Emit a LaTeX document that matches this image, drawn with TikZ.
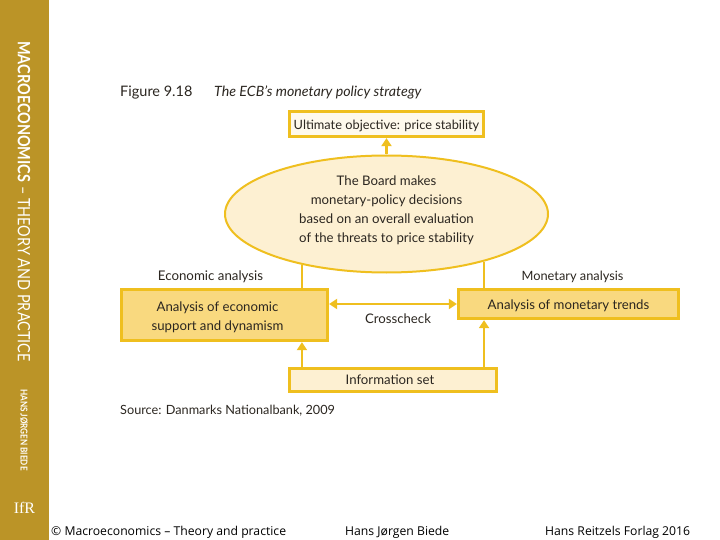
\documentclass[tikz,border=0pt]{standalone}
\usepackage{fontspec}
\setmainfont{Lato}
\newfontfamily\footfont{Open Sans}
\newfontfamily\spinefont[FakeStretch=0.85]{Lato}
\newfontfamily\logofont{Liberation Serif}
\usetikzlibrary{arrows.meta, shapes.geometric}
\definecolor{spine}{HTML}{BB9427}
\definecolor{edge}{HTML}{EFBF1F}
\definecolor{deepfill}{HTML}{F9D97F}
\definecolor{palefill}{HTML}{FDF0D2}
\definecolor{lightfill}{HTML}{FEF9EC}
\definecolor{ink}{HTML}{2B2620}
% text of a node, moved by (#1)/2 sideways and #2 upwards, the node keeps its size
\newcommand{\nudged}[3]{\raisebox{#2}[\height][\depth]{\hspace*{#1}\begin{tabular}{@{}c@{}}#3\end{tabular}}}
\tikzset{%
	every stage/.style={
		draw=edge,
		line width=2.8pt,
		text=ink,
		font=\fontsize{13.2}{19}\selectfont,
		align=center,
		inner sep=0pt
	},
	link/.style={
		draw=edge,
		line width=2.8pt,
		-{Triangle[length=8pt,width=10pt]}
	},
	caption/.style={
		text=ink,
		font=\fontsize{13.2}{16}\selectfont,
		inner sep=0pt
	},
	footer/.style={
		text=black,
		font=\footfont\fontsize{12.2}{14}\selectfont,
		inner sep=0pt
	},
	spinetext/.style={
		text=white,
		rotate=-90,
		inner sep=0pt
	},
}
\begin{document}
\begin{tikzpicture}[x=1pt,y=-1pt]
	\useasboundingbox (0,0) rectangle (720,540);
	% Spine
	\fill[spine] (0,0) rectangle (48.5,540);
	\node[spinetext, font=\spinefont\fontsize{17}{17}\selectfont] (Title) at (24,201.5) {\textbf{MACROECONOMICS} – THEORY AND PRACTICE};
	\node[spinetext, font=\spinefont\bfseries\fontsize{9.5}{10}\selectfont] (Writer) at (24,430) {HANS JØRGEN BIEDE};
	\node[text=white, inner sep=0pt, font=\logofont\fontsize{16}{16}\selectfont] (Logo) at (24.5,508) {IfR};
	% Heading
	\node[caption, anchor=west, font=\fontsize{14.5}{17}\selectfont] (Figure) at (120,92.5) {Figure 9.18};
	\node[caption, anchor=west, font=\itshape\fontsize{14.2}{17}\selectfont] (Heading) at (214,92.5) {The ECB's monetary policy strategy};
	% Boxes
	\node[every stage, fill=lightfill, minimum width=194.5pt, minimum height=25.5pt, font=\fontsize{12.8}{16}\selectfont] (Objective) at (386.5,124) {\nudged{0pt}{-2pt}{Ultimate objective: price stability}};
	\node[every stage, ellipse, line width=2pt, fill=palefill, minimum width=323pt, minimum height=117pt] (Board) at (386.5,214) {\nudged{0pt}{4pt}{The Board makes\\monetary-policy decisions\\based on an overall evaluation\\of the threats to price stability}};
	\node[every stage, fill=deepfill, minimum width=206.5pt, minimum height=51.5pt] (Economic) at (224.5,315) {\nudged{-14pt}{-2pt}{Analysis of economic\\support and dynamism}};
	\node[every stage, fill=deepfill, minimum width=220.5pt, minimum height=29.5pt] (Monetary) at (568.5,304) {\nudged{0pt}{-2pt}{Analysis of monetary trends}};
	\node[every stage, fill=palefill, minimum width=206.5pt, minimum height=23.5pt] (Information) at (393,380) {\nudged{-6pt}{-1pt}{Information set}};
	% Connect
	\draw[link] (Board) -- (Objective);
	\draw[edge, line width=2.8pt] (Board.211.5) -- (Board.211.5 |- Economic.north);
	\draw[edge, line width=2.8pt] (Board.334) -- (Board.334 |- Monetary.north);
	\draw[link] (Board.211.5 |- Information.north) -- (Board.211.5 |- Economic.south);
	\draw[link] (Board.334 |- Information.north) -- (Board.334 |- Monetary.south);
	\draw[link, {Triangle[length=8pt,width=10pt]}-{Triangle[length=8pt,width=10pt]}] (Economic.east |- Monetary) -- (Monetary);
	% Labels
	\node[caption, font=\fontsize{13.3}{16}\selectfont] (EconomicLabel) at (210.5,276.5) {Economic analysis};
	\node[caption, font=\fontsize{12.8}{16}\selectfont] (MonetaryLabel) at (572.5,276.5) {Monetary analysis};
	\node[caption] (Crosscheck) at (398,318.5) {Crosscheck};
	\node[caption, anchor=west, font=\fontsize{12.7}{16}\selectfont] (Source) at (120,411) {Source: Danmarks Nationalbank, 2009};
	% Footer
	\node[footer, anchor=west] (FootBook) at (51,532) {© Macroeconomics – Theory and practice};
	\node[footer, anchor=west] (FootWriter) at (345,532) {Hans Jørgen Biede};
	\node[footer, anchor=west] (FootPublisher) at (545,532) {Hans Reitzels Forlag 2016};
\end{tikzpicture}
\end{document}
